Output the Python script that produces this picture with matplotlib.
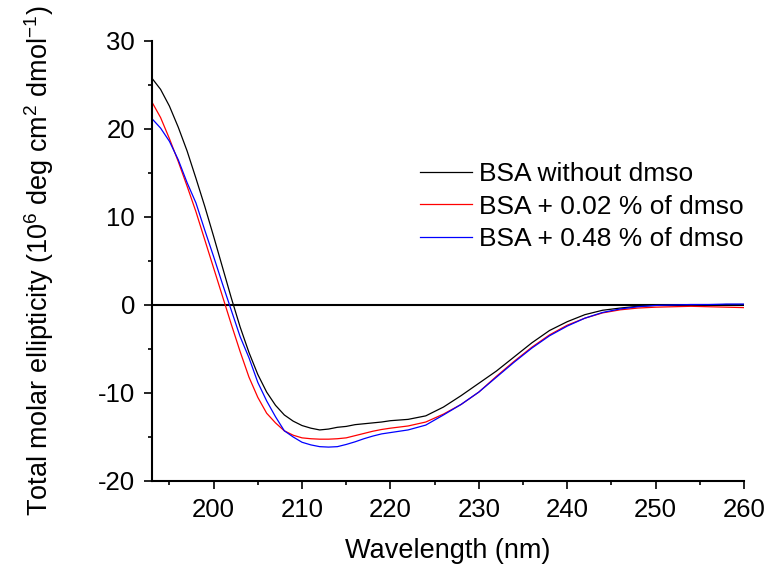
import matplotlib
matplotlib.use('Agg')
import matplotlib.pyplot as plt

plt.rcParams['font.family'] = ['Liberation Sans', 'DejaVu Sans']
plt.rcParams['mathtext.default'] = 'regular'
plt.rcParams['axes.unicode_minus'] = False

# wavelength (nm) and ellipticity (10^6 deg cm2 dmol-1)
wl = [193, 194, 195, 196, 197, 198, 199, 200, 201, 202, 203, 204, 205, 206,
      207, 208, 209, 210, 211, 212, 213, 214, 215, 216, 217, 218, 219, 220,
      222, 224, 226, 228, 230, 232, 234, 236, 238, 240, 242, 244, 246, 248,
      250, 252, 254, 256, 258, 260]
bsa_plain = [25.8, 24.5, 22.6, 20.2, 17.5, 14.4, 11.2, 7.8, 4.3, 0.8, -2.5, -5.4, -7.9, -9.9,
             -11.4, -12.5, -13.2, -13.7, -14.0, -14.2, -14.1, -13.9, -13.8, -13.6, -13.5, -13.4, -13.3, -13.15,
             -13.0, -12.6, -11.6, -10.3, -8.9, -7.5, -5.9, -4.3, -2.9, -1.9, -1.1, -0.6, -0.35, -0.15,
             -0.05, 0.0, 0.0, 0.0, 0.05, 0.05]
bsa_002 = [23.1, 21.3, 18.9, 16.3, 13.5, 10.6, 7.4, 4.2, 1.0, -2.2, -5.3, -8.2, -10.5, -12.3,
           -13.4, -14.3, -14.8, -15.1, -15.2, -15.25, -15.25, -15.2, -15.1, -14.85, -14.6, -14.35, -14.15, -14.0,
           -13.75, -13.3, -12.4, -11.3, -9.9, -8.1, -6.4, -4.8, -3.4, -2.3, -1.5, -0.9, -0.55, -0.35,
           -0.25, -0.2, -0.15, -0.2, -0.25, -0.3]
bsa_048 = [21.2, 20.1, 18.6, 16.5, 13.9, 11.6, 8.5, 5.5, 2.4, -0.6, -3.6, -6.0, -8.8, -10.9,
           -12.7, -14.3, -15.0, -15.6, -15.9, -16.1, -16.15, -16.1, -15.85, -15.55, -15.2, -14.9, -14.65, -14.5,
           -14.2, -13.65, -12.5, -11.3, -9.9, -8.2, -6.5, -4.9, -3.5, -2.4, -1.5, -0.85, -0.45, -0.2,
           -0.05, 0.0, 0.05, 0.05, 0.1, 0.1]
labels = ['BSA without dmso', 'BSA + 0.02 % of dmso', 'BSA + 0.48 % of dmso']
colors = ['black', 'red', 'blue']

fig = plt.figure(figsize=(7.71, 5.69), dpi=100)
ax = fig.add_axes([0.1968, 0.1547, 0.9650 - 0.1968, 0.928 - 0.1547])

for ys, c, lb in zip([bsa_plain, bsa_002, bsa_048], colors, labels):
    ax.plot(wl, ys, color=c, lw=0.9, label=lb)
ax.axhline(0, color='black', lw=1.5, zorder=1)

ax.set_xlim(193, 260)
ax.set_ylim(-20, 30)
ax.set_xticks(range(200, 261, 10))
ax.set_xticks(range(195, 260, 10), minor=True)
ax.set_yticks(range(-20, 31, 10))
ax.set_yticks(range(-15, 30, 10), minor=True)
for s in ['top', 'right']:
    ax.spines[s].set_visible(False)
for s in ['left', 'bottom']:
    ax.spines[s].set_linewidth(1.5)
ax.tick_params(which='major', length=6, width=1.2, labelsize=18.5, pad=6)
ax.tick_params(which='minor', length=3, width=1.2)

ax.set_xlabel('Wavelength (nm)', fontsize=19.5, labelpad=12)
ax.set_ylabel('Total molar ellipticity (10$^6$ deg cm$^2$ dmol$^{-1}$)', fontsize=19.5, labelpad=30)

ax.legend(loc='upper left', bbox_to_anchor=(420/771, 1 - 162/569), bbox_transform=fig.transFigure,
          frameon=False, fontsize=19, handlelength=1.97, handletextpad=0.27,
          labelspacing=0.33, borderpad=0, borderaxespad=0)

fig.savefig('out.png', dpi=100)
